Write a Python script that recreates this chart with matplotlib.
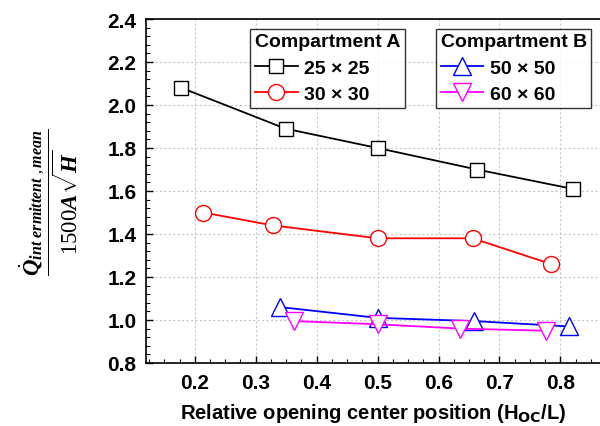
import numpy as np
import matplotlib
matplotlib.use('Agg')
import matplotlib.pyplot as plt
from matplotlib.ticker import MultipleLocator, AutoMinorLocator

plt.rcParams['font.family'] = ['Liberation Sans', 'DejaVu Sans']
plt.rcParams['font.weight'] = 'bold'
plt.rcParams['mathtext.fontset'] = 'custom'
plt.rcParams['mathtext.rm'] = 'Liberation Serif:weight=normal'
plt.rcParams['mathtext.it'] = 'Liberation Serif:italic:bold'
plt.rcParams['mathtext.bf'] = 'Liberation Serif:bold'

# opening position vs. normalised mean flow, one series per opening size
x_25 = [0.178, 0.349, 0.500, 0.663, 0.820]
y_25 = [2.08, 1.89, 1.80, 1.70, 1.61]

x_30 = [0.214, 0.328, 0.500, 0.656, 0.785]
y_30 = [1.50, 1.44, 1.38, 1.38, 1.26]

x_50 = [0.340, 0.500, 0.658, 0.814]
y_50 = [1.06, 1.01, 0.995, 0.97]

x_60 = [0.363, 0.500, 0.636, 0.777]
y_60 = [0.995, 0.98, 0.96, 0.95]

labels_a = ['25 \u00d7 25', '30 \u00d7 30']
labels_b = ['50 \u00d7 50', '60 \u00d7 60']

xticks = [0.2, 0.3, 0.4, 0.5, 0.6, 0.7, 0.8]
yticks = [0.8, 1.0, 1.2, 1.4, 1.6, 1.8, 2.0, 2.2, 2.4]

fig = plt.figure(figsize=(6, 4.27), dpi=100)
ax = fig.add_axes([146 / 600, 1 - 364 / 427, 454 / 600, 344 / 427])

ms = 10
l1, = ax.plot(x_25, y_25, color='black', lw=1.3, marker='s', ms=ms,
              mfc='white', mec='black', mew=1.0)
l2, = ax.plot(x_30, y_30, color='red', lw=1.3, marker='o', ms=ms + 1.5,
              mfc='white', mec='red', mew=1.0)
l3, = ax.plot(x_50, y_50, color='blue', lw=1.3, marker='^', ms=ms + 2.5,
              mfc='white', mec='blue', mew=1.0)
l4, = ax.plot(x_60, y_60, color='magenta', lw=1.3, marker='v', ms=ms + 2.5,
              mfc='white', mec='magenta', mew=1.0)

ax.set_xlim(0.12, 0.865)
ax.set_ylim(0.8, 2.4)
ax.set_xticks(xticks)
ax.set_xticklabels([f'{v:.1f}' for v in xticks])
ax.set_yticks(yticks)
ax.set_yticklabels([f'{v:.1f}' for v in yticks])
ax.xaxis.set_minor_locator(AutoMinorLocator(4))
ax.yaxis.set_minor_locator(AutoMinorLocator(5))
ax.tick_params(which='major', direction='in', length=5, width=1.0,
               labelsize=15, pad=7)
ax.tick_params(which='minor', direction='in', length=3, width=0.8)
for lab in ax.get_xticklabels() + ax.get_yticklabels():
    lab.set_fontweight('bold')

ax.grid(True, which='major', color='#c8c8c8', ls=(0, (2, 2)), lw=0.8)
ax.spines['right'].set_visible(False)
for s in ['left', 'bottom', 'top']:
    ax.spines[s].set_linewidth(1.2)

ax.set_xlabel('Relative opening center position (H$_{\\mathsf{OC}}$/L)',
              fontsize=14.5, fontweight='bold', labelpad=7)
ax.set_ylabel(r'$\dfrac{\dot{Q}_{int\ ermittent\ ,mean}}{\mathrm{1500}A\sqrt{H}}$',
              fontsize=16.5)
ax.yaxis.set_label_coords(-0.145, 0.47)


def add_legend(handles, labels, title, x0):
    leg = ax.legend(handles, labels, title=title,
                    loc='upper left', bbox_to_anchor=(x0, 0.972),
                    frameon=True, fancybox=False, edgecolor='black',
                    prop={'size': 14, 'weight': 'bold'},
                    handlelength=2.2, handletextpad=0.35, borderpad=0.25,
                    labelspacing=0.45, borderaxespad=0)
    leg.get_title().set_fontweight('bold')
    leg.get_title().set_fontsize(14)
    leg._legend_box.align = 'left'
    leg.get_frame().set_linewidth(1.0)
    return leg


ax.add_artist(add_legend([l1, l2], labels_a, 'Compartment A', 0.229))
add_legend([l3, l4], labels_b, 'Compartment B', 0.638)

fig.savefig('out.png', dpi=100)
